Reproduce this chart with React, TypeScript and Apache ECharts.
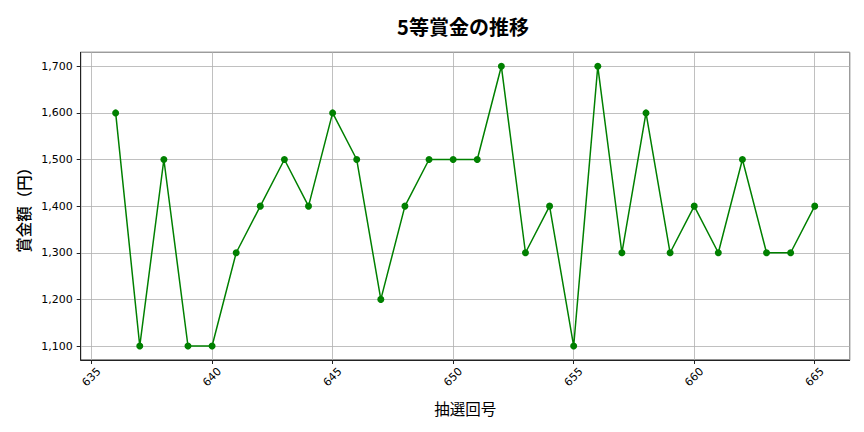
import React, { useEffect, useRef } from "react";
import * as echarts from "echarts";

const rounds = [636, 637, 638, 639, 640, 641, 642, 643, 644, 645, 646, 647, 648, 649, 650, 651, 652, 653, 654, 655, 656, 657, 658, 659, 660, 661, 662, 663, 664, 665];
const prizes = [1600, 1100, 1500, 1100, 1100, 1300, 1400, 1500, 1400, 1600, 1500, 1200, 1400, 1500, 1500, 1500, 1700, 1300, 1400, 1100, 1700, 1300, 1600, 1300, 1400, 1300, 1500, 1300, 1300, 1400];

const titleText = "5等賞金の推移";
const xName = "抽選回号";
const yName = "賞金額（円）";

export default function App() {
  const ref = useRef<HTMLDivElement>(null);
  useEffect(() => {
    if (!ref.current) return;
    const chart = echarts.init(ref.current, undefined, { renderer: "svg" });
    const tickFont = "DejaVu Sans";
    const cjk = "Noto Sans CJK JP";
    chart.setOption({
      animation: false,
      backgroundColor: "#ffffff",
      title: {
        text: titleText,
        left: 458,
        textAlign: "center",
        top: 11,
        textStyle: { fontFamily: cjk, fontSize: 20, fontWeight: "bold", color: "#000" },
      },
      grid: {
        left: 80.7,
        right: 14.3,
        top: 52.3,
        bottom: 72,
        show: true,
        borderColor: "#222",
        borderWidth: 1,
        backgroundColor: "transparent",
      },
      xAxis: {
        type: "value",
        min: 634.55,
        max: 666.45,
        splitNumber: 6,
        minInterval: 5,
        maxInterval: 5,
        name: xName,
        nameLocation: "middle",
        nameGap: 40,
        nameTextStyle: { fontFamily: cjk, fontSize: 15.5, color: "#000" },
        axisLine: { show: true, onZero: false, lineStyle: { color: "#222", width: 1 } },
        axisTick: { show: true, length: 4, lineStyle: { color: "#222" } },
        axisLabel: {
          rotate: 45,
          align: "center",
          verticalAlign: "middle",
          fontFamily: tickFont,
          fontSize: 11,
          color: "#000",
          margin: 17,
          showMinLabel: false,
          showMaxLabel: false,
          formatter: (v: number) => (Math.abs(v % 5) < 1e-6 ? String(Math.round(v)) : ""),
        },
        splitLine: { show: true, lineStyle: { color: "#b0b0b0", width: 0.8 } },
      },
      yAxis: {
        type: "value",
        min: 1070,
        max: 1730,
        splitNumber: 6,
        minInterval: 100,
        maxInterval: 100,
        name: yName,
        nameLocation: "middle",
        nameGap: 50,
        nameTextStyle: { fontFamily: cjk, fontSize: 15.5, color: "#000", fontWeight: 500 },
        axisLine: { show: true, lineStyle: { color: "#222", width: 1 } },
        axisTick: { show: true, length: 4, lineStyle: { color: "#222" } },
        axisLabel: {
          fontFamily: tickFont,
          fontSize: 11,
          color: "#000",
          margin: 8,
          showMinLabel: false,
          showMaxLabel: false,
          formatter: (v: number) => (v % 100 === 0 ? v.toLocaleString("en-US") : ""),
        },
        splitLine: { show: true, lineStyle: { color: "#b0b0b0", width: 0.8 } },
      },
      series: [
        {
          type: "line",
          data: rounds.map((r, i) => [r, prizes[i]]),
          symbol: "circle",
          symbolSize: 7,
          showSymbol: true,
          lineStyle: { color: "#008000", width: 1.5 },
          itemStyle: { color: "#008000" },
        },
      ],
    });
    return () => chart.dispose();
  }, []);
  return <div ref={ref} style={{ position: "fixed", left: 0, top: 0, width: 864, height: 432 }} />;
}
